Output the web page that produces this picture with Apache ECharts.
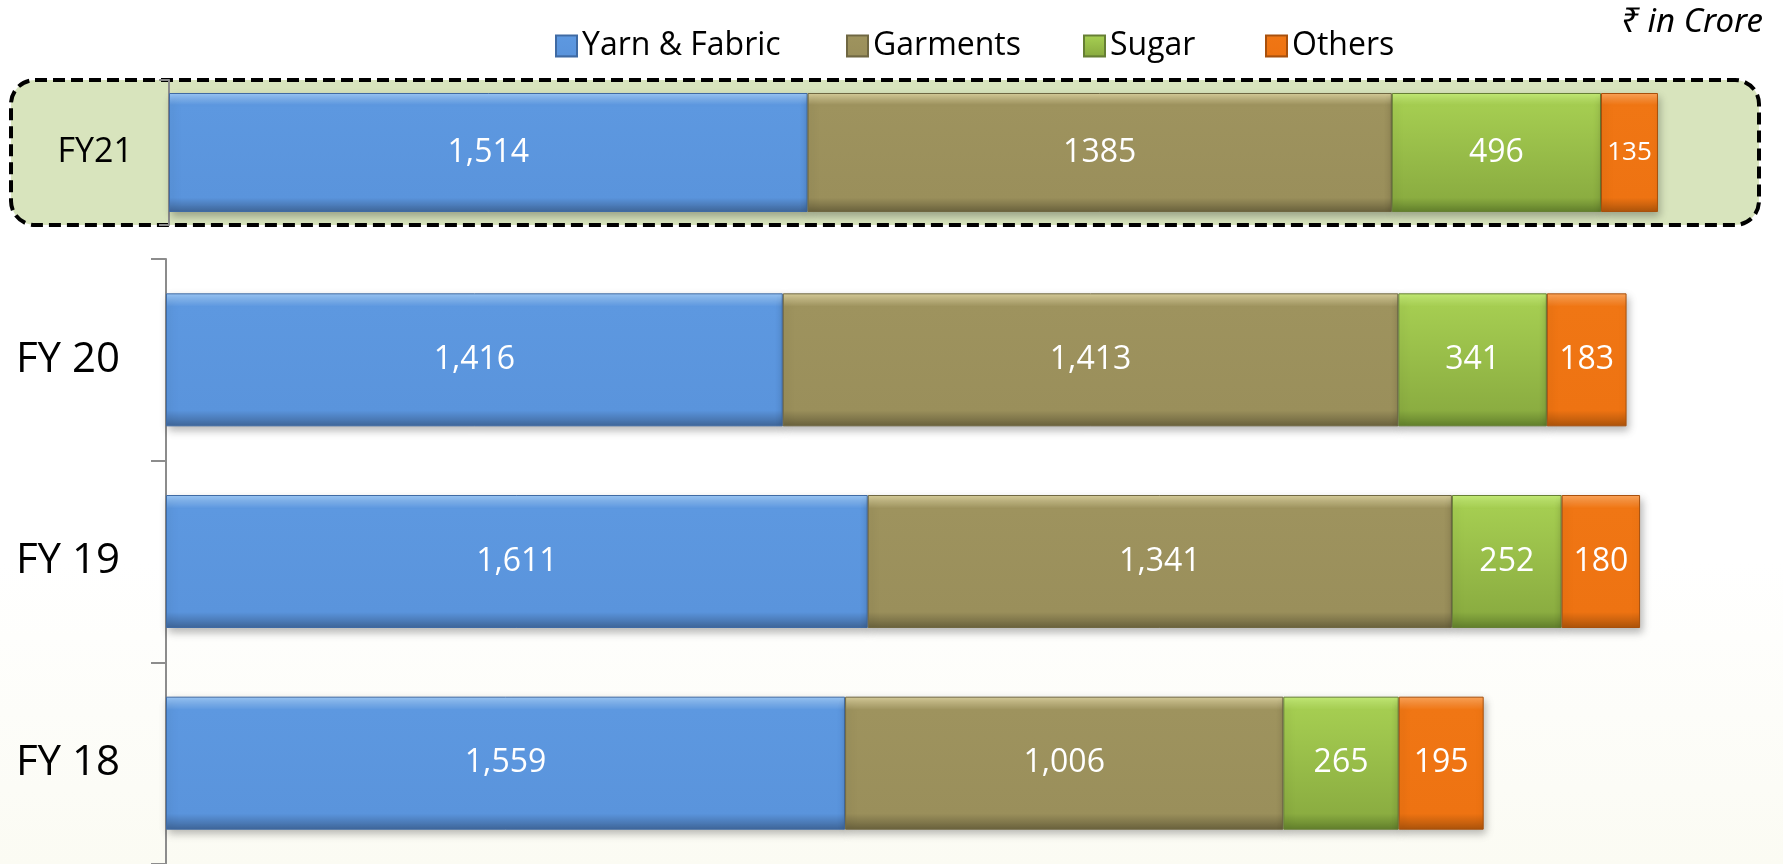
<!DOCTYPE html>
<html>
<head>
<meta charset="utf-8">
<script src="https://cdn.jsdelivr.net/npm/echarts@6/dist/echarts.min.js"></script>
<style>
html,body{margin:0;padding:0;background:#fff;}
#main{width:1783px;height:864px;}
</style>
</head>
<body>
<div id="main"></div>
<script>
// ---- data ----
const seriesNames = ['Yarn & Fabric', 'Garments', 'Sugar', 'Others'];
const fy21Category = ['FY21'];
const fy21Yarn = [1514];
const fy21Garments = [1385];
const fy21Sugar = [496];
const fy21Others = [135];
const fy21Labels = [['1,514'], ['1385'], ['496'], ['135']];

const categories = ['FY 18', 'FY 19', 'FY 20'];
const yarn = [1559, 1611, 1416];
const garments = [1006, 1341, 1413];
const sugar = [265, 252, 341];
const others = [195, 180, 183];

const unitText = '\u20B9 in Crore';

// ---- styles ----
function grad(c0, c1, c2, c3) {
  return new echarts.graphic.LinearGradient(0, 0, 0, 1, [
    {offset: 0, color: c0},
    {offset: 0.1, color: c1},
    {offset: 0.88, color: c2},
    {offset: 1, color: c3}
  ]);
}
const palette = [
  {fill: () => grad('#9cc8f7', '#5d98e0', '#5a94dc', '#3f6699'), border: '#3f6aa3'},
  {fill: () => grad('#d9cf9c', '#9e935e', '#9a8f5b', '#6a623d'), border: '#6f6742'},
  {fill: () => grad('#c6ee78', '#a5cd51', '#8bad41', '#62802c'), border: '#667f34'},
  {fill: () => grad('#ffa65a', '#f07614', '#ee7312', '#ad540b'), border: '#a8500c'}
];
const FONT = "'Open Sans', 'Noto Sans', sans-serif";

function makeSeries(name, idx, values, grid, labelTexts, smallLabel) {
  return {
    name: name,
    type: 'bar',
    stack: 'g' + grid,
    xAxisIndex: grid,
    yAxisIndex: grid,
    barWidth: grid === 0 ? 119 : 133,
    data: values.map((v, i) => {
      const d = {value: v};
      if (smallLabel) d.label = {fontSize: 26};
      return d;
    }),
    label: {
      show: true,
      position: 'inside',
      color: '#ffffff',
      fontFamily: FONT,
      fontSize: 32,
      formatter: p => labelTexts ? labelTexts[p.dataIndex] : p.value.toLocaleString('en-US')
    },
    itemStyle: {
      color: palette[idx].fill(),
      borderColor: palette[idx].border,
      borderWidth: 1,
      shadowBlur: 8,
      shadowOffsetX: 2,
      shadowOffsetY: 4,
      shadowColor: 'rgba(0,0,0,0.28)'
    },
    emphasis: {disabled: true}
  };
}

const upperSets = [fy21Yarn, fy21Garments, fy21Sugar, fy21Others];
const lowerSets = [yarn, garments, sugar, others];
const series = [];
upperSets.forEach((vals, i) => series.push(makeSeries(seriesNames[i], i, vals, 0, fy21Labels[i], i === 3)));
lowerSets.forEach((vals, i) => series.push(makeSeries(seriesNames[i], i, vals, 1, null, false)));

const legendLefts = [550, 841, 1078, 1260];
const legends = seriesNames.map((n, i) => ({
  data: [n],
  left: legendLefts[i],
  top: 25,
  icon: 'rect',
  itemWidth: 21,
  itemHeight: 21,
  selectedMode: false,
  textStyle: {fontFamily: FONT, fontSize: 32, color: '#000'}
}));

const option = {
  animation: false,
  backgroundColor: new echarts.graphic.LinearGradient(0, 0, 0, 1, [
    {offset: 0, color: '#ffffff'},
    {offset: 0.65, color: '#ffffff'},
    {offset: 1, color: '#fbfbf3'}
  ]),
  legend: legends,
  graphic: [
    {
      type: 'rect',
      z: -10,
      shape: {x: 11, y: 80, width: 1748, height: 145, r: 24},
      style: {fill: '#d8e4bd', stroke: '#000000', lineWidth: 4, lineDash: [12, 6]}
    },
    {
      type: 'text',
      right: 20,
      top: 6,
      style: {
        text: unitText,
        fontFamily: "'Noto Sans', 'Open Sans', 'DejaVu Sans', sans-serif",
        fontStyle: 'italic',
        fontSize: 33,
        fill: '#000'
      }
    }
  ],
  grid: [
    {left: 169, top: 80, height: 145, width: 1518.5},
    {left: 166, top: 259, height: 606, width: 1524.6}
  ],
  xAxis: [
    {type: 'value', gridIndex: 0, min: 0, max: 3600, show: false},
    {type: 'value', gridIndex: 1, min: 0, max: 3500, show: false}
  ],
  yAxis: [
    {
      type: 'category', gridIndex: 0, data: fy21Category,
      axisLine: {show: true, lineStyle: {color: '#8c8c8c', width: 2}},
      axisTick: {show: true, length: 10, lineStyle: {color: '#8c8c8c', width: 2}},
      axisLabel: {fontFamily: FONT, fontSize: 34, color: '#000', margin: 36}
    },
    {
      type: 'category', gridIndex: 1, data: categories,
      axisLine: {show: true, lineStyle: {color: '#8c8c8c', width: 2}},
      axisTick: {show: true, length: 15, lineStyle: {color: '#8c8c8c', width: 2}},
      axisLabel: {fontFamily: FONT, fontSize: 42, color: '#000', margin: 46}
    }
  ],
  series: series
};

const chart = echarts.init(document.getElementById('main'), null, {renderer: 'canvas'});
chart.setOption(option);
</script>
</body>
</html>
